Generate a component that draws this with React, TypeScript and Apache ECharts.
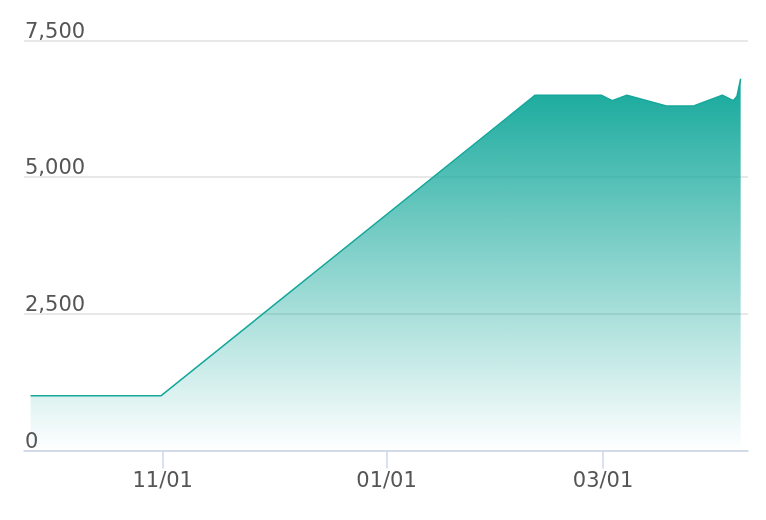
import React, { useEffect, useRef } from "react";
import * as echarts from "echarts";

const dates: string[] = [
  "2022-09-26T00", "2022-10-31T12", "2023-02-10T12", "2023-02-28T12", "2023-03-03T12", "2023-03-07T12",
  "2023-03-18T12", "2023-03-25T12", "2023-04-02T12", "2023-04-05T12", "2023-04-06T12", "2023-04-07T12",
];
const values: number[] = [1000, 1000, 6500, 6500, 6400, 6500, 6300, 6300, 6500, 6400, 6480, 6800];
const tickDates: string[] = ["2022-11-01T00", "2023-01-01T00", "2023-03-01T00"];
const yTicks: number[] = [0, 2500, 5000, 7500];

const ts = (s: string) => {
  const [day, hour] = s.split("T");
  const [y, m, d] = day.split("-").map(Number);
  return Date.UTC(y, m - 1, d, Number(hour || 0));
};
const pad = (n: number) => (n < 10 ? "0" + n : "" + n);
const DAY = 86400000;

export default function App() {
  const ref = useRef<HTMLDivElement>(null);
  useEffect(() => {
    if (!ref.current) return;
    const chart = echarts.init(ref.current, undefined, { renderer: "svg" });
    const tickTs = tickDates.map(ts);
    const font = "DejaVu Sans";
    chart.setOption({
      animation: false,
      grid: { left: 24, right: 18, top: 40.5, bottom: 69.5, containLabel: false },
      xAxis: {
        type: "value",
        min: ts("2022-09-24T00") + 0.2 * DAY,
        max: ts("2023-04-09T00") + 0.5 * DAY,
        splitLine: { show: false },
        axisLine: { show: true, lineStyle: { color: "#ccd6eb", width: 1.5 } },
        axisTick: { show: true, length: 18, customValues: tickTs, lineStyle: { color: "#ccd6eb", width: 1.5 } },
        axisLabel: {
          customValues: tickTs,
          margin: 19,
          fontFamily: font,
          fontSize: 21,
          lineHeight: 21,
          color: "#555555",
          formatter: (v: number) => {
            const d = new Date(v);
            return pad(d.getUTCMonth() + 1) + "/" + pad(d.getUTCDate());
          },
        },
      },
      yAxis: {
        type: "value",
        min: yTicks[0],
        max: yTicks[yTicks.length - 1],
        interval: yTicks[1] - yTicks[0],
        axisLine: { show: false },
        axisTick: { show: false },
        splitLine: { show: true, lineStyle: { color: "#e0e0e0", width: 1.5 } },
        axisLabel: {
          inside: true,
          align: "left",
          verticalAlign: "bottom",
          margin: 1,
          fontFamily: font,
          fontSize: 21,
          lineHeight: 20,
          color: "#555555",
          formatter: (v: number) => v.toLocaleString("en-US"),
        },
      },
      series: [
        {
          type: "line",
          data: dates.map((d, i) => [ts(d), values[i]]),
          symbol: "none",
          lineStyle: { color: "#14a89b", width: 1.5 },
          areaStyle: {
            opacity: 1,
            color: new echarts.graphic.LinearGradient(0, 0, 0, 1, [
              { offset: 0, color: "rgba(20,168,155,1)" },
              { offset: 1, color: "rgba(20,168,155,0)" },
            ]),
          },
        },
      ],
    });
    return () => chart.dispose();
  }, []);
  return <div ref={ref} style={{ position: "fixed", left: 0, top: 0, width: 766, height: 520 }} />;
}
